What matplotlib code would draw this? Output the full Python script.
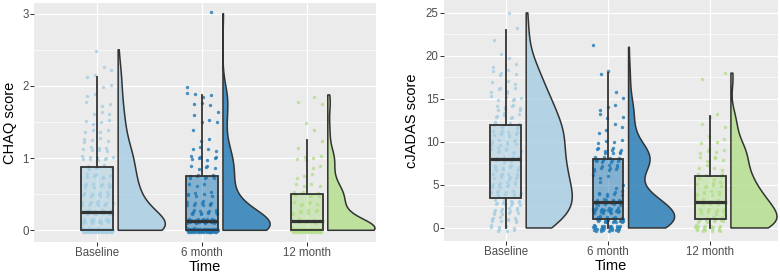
import numpy as np
import matplotlib
matplotlib.use("Agg")
import matplotlib.pyplot as plt
from matplotlib.patches import Polygon
from matplotlib.colors import to_rgba
from matplotlib.ticker import MultipleLocator

plt.rcParams['font.family'] = ['Liberation Sans', 'DejaVu Sans']

categories = ["Baseline", "6 month", "12 month"]
group_colors = ["#a6cee3", "#1f78b4", "#b2df8a"]

# CHAQ score: value levels and number of patients at each level
chaq_levels = [0, 0.125, 0.25, 0.375, 0.5, 0.625, 0.75, 0.875, 1.0, 1.125, 1.25,
               1.375, 1.5, 1.625, 1.75, 1.875, 2.0, 2.125, 2.25, 2.5, 3.0]
chaq_counts_baseline = [58, 20, 21, 12, 12, 11, 9, 9, 9, 7, 5, 4, 4, 3, 3, 2, 2, 2, 2, 1, 0]
chaq_counts_6m = [52, 34, 14, 10, 7, 3, 9, 5, 7, 4, 2, 1, 3, 2, 3, 4, 1, 0, 0, 0, 1]
chaq_counts_12m = [46, 10, 8, 6, 10, 4, 3, 2, 5, 1, 1, 1, 1, 0, 2, 1, 0, 0, 0, 0, 0]

# cJADAS score: value levels and number of patients at each level
cjadas_levels = list(range(26))
cjadas_counts_baseline = [9, 10, 12, 14, 11, 11, 11, 10, 10, 9, 10, 10, 10, 7, 8, 6, 6, 3, 5,
                          2, 2, 0, 1, 1, 0, 1]
cjadas_counts_6m = [28, 24, 22, 16, 8, 3, 3, 10, 14, 10, 4, 2, 2, 3, 3, 1, 1, 0, 2,
                    0, 0, 1, 0, 0, 0, 0]
cjadas_counts_12m = [18, 14, 12, 11, 8, 7, 6, 4, 5, 5, 3, 1, 2, 2, 0, 0, 0, 1, 1,
                     0, 0, 0, 0, 0, 0, 0]


def nrd0(x):
    hi = np.std(x, ddof=1)
    q75, q25 = np.percentile(x, [75, 25])
    lo = min(hi, (q75 - q25) / 1.34)
    if lo == 0:
        lo = hi if hi > 0 else 1.0
    return 0.9 * lo * len(x) ** -0.2


def draw_panel(ax, levels, counts_list, ylabel, ylim, major, minor, yjit):
    for i, (counts, col) in enumerate(zip(counts_list, group_colors)):
        pos = i + 1
        vals = np.repeat(np.array(levels, float), counts)
        n = len(vals)
        k = np.arange(1, n + 1)
        ux = (0.5 + k * 0.7548776662) % 1
        uy = (0.5 + k * 0.5698402910) % 1
        xs = pos + (ux - 0.5) * 0.3
        ys = vals + (uy - 0.5) * 2 * yjit
        ax.scatter(xs, ys, s=6, color=col, alpha=0.8, linewidths=0, zorder=2)

        bp = ax.boxplot([vals], positions=[pos], widths=0.3, patch_artist=True,
                        showfliers=False, showcaps=False, whis=1.5,
                        manage_ticks=False, zorder=3,
                        boxprops=dict(edgecolor='#333333', linewidth=1.3),
                        whiskerprops=dict(color='#333333', linewidth=1.3),
                        medianprops=dict(color='#333333', linewidth=2.3,
                                         solid_capstyle='butt'))
        bp['boxes'][0].set_facecolor(to_rgba(col, 0.5))

        bw = nrd0(vals)
        grid = np.linspace(vals.min(), vals.max(), 512)
        dens = np.exp(-0.5 * ((grid[:, None] - vals[None, :]) / bw) ** 2).sum(1)
        w = dens / dens.max() * 0.45
        x0 = pos + 0.2
        verts = np.column_stack([np.r_[x0, x0 + w, x0],
                                 np.r_[grid[0], grid, grid[-1]]])
        ax.add_patch(Polygon(verts, closed=True, facecolor=to_rgba(col, 0.8),
                             edgecolor='#333333', linewidth=1.1, zorder=4,
                             joinstyle='round'))

    ax.set_facecolor('#EBEBEB')
    for s in ax.spines.values():
        s.set_visible(False)
    ax.set_axisbelow(True)
    ax.set_xlim(0.4, 3.66)
    ax.set_ylim(*ylim)
    ax.set_xticks([1, 2, 3])
    ax.set_xticklabels(categories)
    ax.yaxis.set_major_locator(MultipleLocator(major))
    ax.yaxis.set_minor_locator(MultipleLocator(minor))
    ax.grid(which='major', color='white', linewidth=0.9)
    ax.grid(which='minor', axis='y', color='white', linewidth=0.45)
    ax.tick_params(which='major', length=2.6, width=0.75, color='#333333',
                   labelsize=8.3, labelcolor='#4D4D4D', pad=1.5)
    ax.tick_params(which='minor', length=0)
    ax.set_ylabel(ylabel, fontsize=10.5)
    ax.set_xlabel("Time", fontsize=10.5)
    ax.yaxis.label.set_va('center')
    ax.xaxis.label.set_va('center')


fig = plt.figure(figsize=(7.8, 2.74), dpi=100)
W, H = 780.0, 274.0
ax1 = fig.add_axes([34.3 / W, 32.3 / H, 341.7 / W, 238.4 / H])
ax2 = fig.add_axes([444.3 / W, 33.3 / H, 333.7 / W, 240.7 / H])

draw_panel(ax1, chaq_levels,
           [chaq_counts_baseline, chaq_counts_6m, chaq_counts_12m],
           "CHAQ score", (-0.158, 3.144), 1, 0.5, 0.03)
draw_panel(ax2, cjadas_levels,
           [cjadas_counts_baseline, cjadas_counts_6m, cjadas_counts_12m],
           "cJADAS score", (-1.48, 26.5), 5, 2.5, 0.35)

ax1.yaxis.set_label_coords(-0.0711, 0.5)
ax1.xaxis.set_label_coords(0.5, -0.1049)
ax2.yaxis.set_label_coords(-0.0977, 0.5)
ax2.xaxis.set_label_coords(0.5, -0.1039)

fig.savefig('out.png', dpi=100)
